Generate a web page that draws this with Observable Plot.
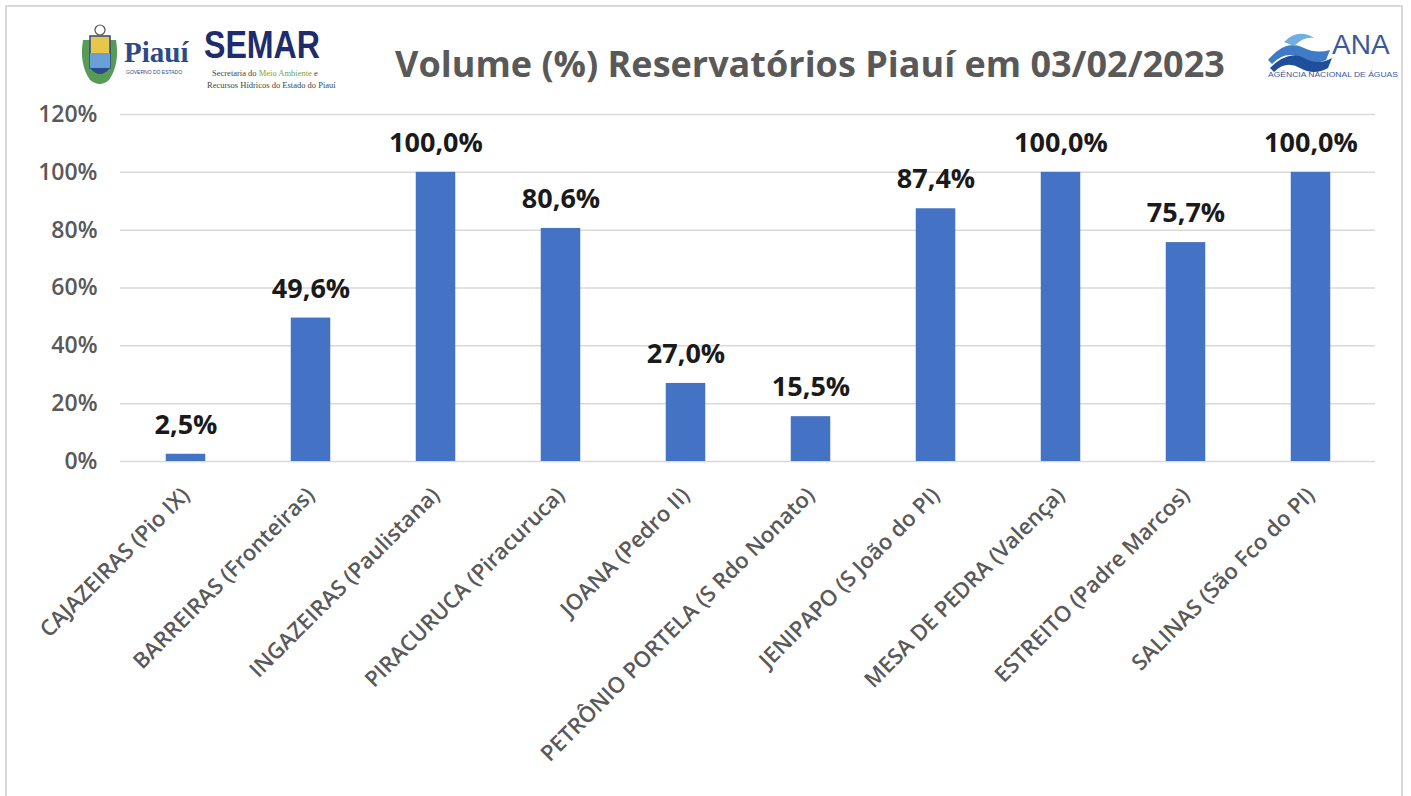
<!DOCTYPE html>
<html>
<head>
<meta charset="utf-8">
<script src="https://cdn.jsdelivr.net/npm/d3@7"></script>
<script src="https://cdn.jsdelivr.net/npm/@observablehq/plot@0.6"></script>
<style>
  html, body { margin: 0; padding: 0; background: #fff; }
  #wrap { position: relative; width: 1411px; height: 796px; overflow: hidden; background: #fff; font-family: "Open Sans", sans-serif; }
  #frame { position: absolute; left: 5px; top: 5px; width: 1398px; height: 800px; border: 2px solid #d9d9d9; box-sizing: border-box; }
  #title { position: absolute; left: 380px; width: 860px; top: 39px; text-align: center; font: 700 36px "Open Sans", sans-serif; color: #595959; white-space: nowrap; }
  #chart { position: absolute; left: 0; top: 80px; }
  .logo { position: absolute; }
</style>
</head>
<body>
<div id="wrap">
  <div id="frame"></div>
  <!-- Left logos -->
  <svg class="logo" style="left:78px;top:20px" width="300" height="74" viewBox="0 0 300 74">
    <!-- coat of arms -->
    <path d="M5 20 Q1 44 12 60 Q22 68 31 60 Q42 44 38 20 Z" fill="#3a8a3a" opacity="0.85"/>
    <rect x="12" y="16" width="20" height="32" fill="#e8c64a" stroke="#2a4a8a" stroke-width="1.5"/>
    <rect x="12" y="33" width="20" height="15" fill="#6aa0d8"/>
    <circle cx="22" cy="10" r="5" fill="none" stroke="#555" stroke-width="1.2"/>
    <path d="M12 48 Q22 60 32 48" fill="#2a4a8a"/>
    <text x="46" y="42" font-family="Liberation Serif, serif" font-weight="700" font-size="29" fill="#2b4a8c">Piauí</text>
    <text x="48" y="54" font-family="Liberation Sans, sans-serif" font-size="5" fill="#2b4a8c">GOVERNO DO ESTADO</text>
    <text x="126" y="38" font-family="Liberation Sans, sans-serif" font-weight="700" font-size="38" fill="#1f2c6c" textLength="116" lengthAdjust="spacingAndGlyphs">SEMAR</text>
    <text x="134" y="56" font-family="Liberation Serif, serif" font-size="8.5" fill="#444">Secretaria do <tspan fill="#6aa84f">Meio Ambiente</tspan> e</text>
    <text x="129" y="68" font-family="Liberation Serif, serif" font-size="8.5" fill="#444">Recursos Hídricos do Estado do Piauí</text>
  </svg>
  <!-- ANA logo -->
  <svg class="logo" style="left:1264px;top:20px" width="140" height="64" viewBox="0 0 140 64">
    <path d="M4 40 Q22 18 40 28 Q52 34 66 30 L62 40 Q48 46 36 38 Q22 30 8 44 Z" fill="#3f7bc6"/>
    <path d="M6 48 Q24 30 40 38 Q54 46 68 38 L64 48 Q50 56 36 48 Q22 40 10 52 Z" fill="#1f4e9a"/>
    <path d="M20 22 Q34 8 50 18 Q40 16 30 26 Z" fill="#6fb0e0"/>
    <text x="68" y="34" font-family="Liberation Sans, sans-serif" font-size="28" fill="#3a5a9a">ANA</text>
    <text x="4" y="57" font-family="Liberation Sans, sans-serif" font-size="6.3" fill="#3a5a9a" textLength="130" lengthAdjust="spacingAndGlyphs">AGÊNCIA NACIONAL DE ÁGUAS</text>
  </svg>
  <div id="title">Volume (%) Reservatórios Piauí em 03/02/2023</div>
  <div id="chart"></div>
</div>
<script>
const categories = [
  "CAJAZEIRAS (Pio IX)",
  "BARREIRAS (Fronteiras)",
  "INGAZEIRAS (Paulistana)",
  "PIRACURUCA (Piracuruca)",
  "JOANA (Pedro II)",
  "PETRÔNIO PORTELA (S Rdo Nonato)",
  "JENIPAPO (S João do PI)",
  "MESA DE PEDRA (Valença)",
  "ESTREITO (Padre Marcos)",
  "SALINAS (São Fco do PI)"
];
const volumes = [2.5, 49.6, 100.0, 80.6, 27.0, 15.5, 87.4, 100.0, 75.7, 100.0];
const yTicks = [0, 20, 40, 60, 80, 100, 120];

const data = categories.map((c, i) => ({ name: c, value: volumes[i] }));
const fmt = v => v.toFixed(1).replace(".", ",") + "%";

const chart = Plot.plot({
  width: 1411,
  height: 710,
  marginLeft: 120,
  marginRight: 36,
  marginTop: 34,
  marginBottom: 329,
  style: { fontFamily: "'Open Sans', sans-serif", background: "transparent" },
  x: { domain: categories, padding: 0, label: null },
  y: { domain: [0, 120], label: null },
  marks: [
    Plot.gridY(yTicks, { stroke: "#d9d9d9", strokeOpacity: 1, strokeWidth: 1.5 }),
    Plot.barY(data, { x: "name", y: "value", fill: "#4472C4", insetLeft: 42.75, insetRight: 42.75 }),
    Plot.text(data, { x: "name", y: "value", text: d => fmt(d.value), dy: -29, fontSize: 27, fontWeight: 700, fill: "#1a1a1a" }),
    Plot.axisY(yTicks, { tickSize: 0, tickPadding: 23, tickFormat: d => d + "%", fontSize: 23, fontWeight: 600, fill: "#595959", label: null }),
    Plot.axisX({ tickSize: 0, tickPadding: 30, tickRotate: -45, fontSize: 22, fontWeight: 600, fill: "#595959", label: null })
  ]
});
document.getElementById("chart").appendChild(chart);
</script>
</body>
</html>
